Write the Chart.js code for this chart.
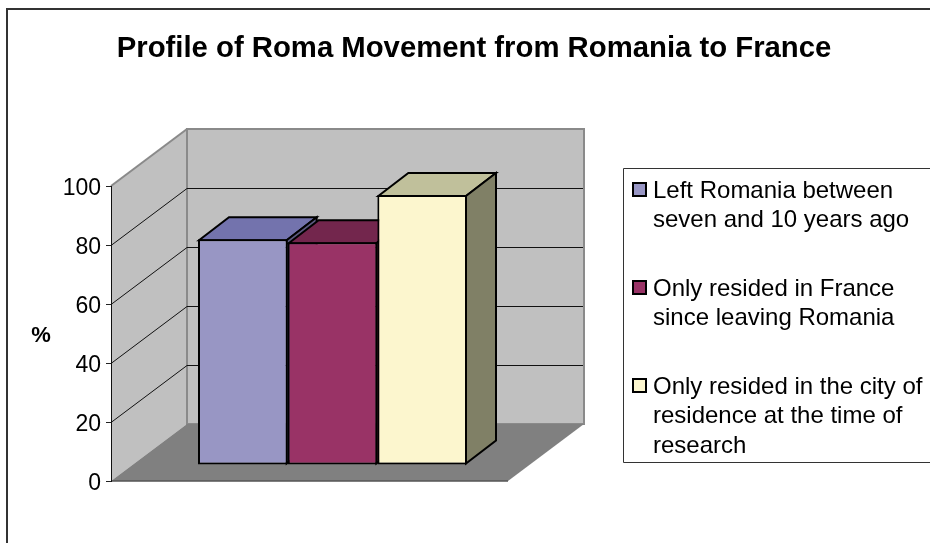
<!DOCTYPE html>
<html>
<head>
<meta charset="utf-8">
<style>html,body{margin:0;padding:0;background:#fff}canvas{display:block}</style>
<script src="https://cdn.jsdelivr.net/npm/chart.js@4"></script>
</head>
<body>
<canvas id="c" width="930" height="543"></canvas>
<script>
const titleText = "Profile of Roma Movement from Romania to France";
const categories = [""];
const seriesLeft = [76.5];
const seriesFrance = [75.5];
const seriesCity = [91.5];
const legendLeft = ["Left Romania between", "seven and 10 years ago"];
const legendFrance = ["Only resided in France", "since leaving Romania"];
const legendCity = ["Only resided in the city of", "residence at the time of", "research"];
const tickValues = [0, 20, 40, 60, 80, 100];
const yLabel = "%";

const FONT = '"Liberation Sans", Arial, sans-serif';
const BACK = {x: 76, y: -57};   // depth of the floor
const FRONT = {x: 23, y: -16};  // gap from front plane to bar front
const DEPTH = {x: 30, y: -23};  // depth of a bar
const colors = [
  {front: "#9896C4", top: "#7373AD", side: "#5C5A80"},
  {front: "#993366", top: "#73264D", side: "#4D1A33"},
  {front: "#FCF6CE", top: "#C0C09B", side: "#808066"}
];

function poly(ctx, pts, fill, stroke, lw) {
  ctx.beginPath();
  pts.forEach((p, i) => i ? ctx.lineTo(p[0], p[1]) : ctx.moveTo(p[0], p[1]));
  ctx.closePath();
  if (fill) { ctx.fillStyle = fill; ctx.fill(); }
  if (stroke) { ctx.strokeStyle = stroke; ctx.lineWidth = lw; ctx.lineJoin = "miter"; ctx.stroke(); }
}

const scene = {
  id: "scene",
  beforeDraw(chart) {
    const {ctx, chartArea: a} = chart;
    const y = chart.scales.y;
    const L = a.left, R = a.right, T = a.top, B = a.bottom;
    ctx.save();
    ctx.fillStyle = "#fff";
    ctx.fillRect(0, 0, chart.width, chart.height);
    // outer frame
    ctx.strokeStyle = "#333"; ctx.lineWidth = 2;
    ctx.beginPath(); ctx.moveTo(7, 543); ctx.lineTo(7, 9); ctx.lineTo(930, 9); ctx.stroke();
    // side wall
    poly(ctx, [[L, B], [L, T], [L + BACK.x, T + BACK.y], [L + BACK.x, B + BACK.y]], "#C0C0C0", null);
    // back wall
    poly(ctx, [[L + BACK.x, T + BACK.y], [R + BACK.x, T + BACK.y], [R + BACK.x, B + BACK.y], [L + BACK.x, B + BACK.y]], "#C0C0C0", "#8A8A8A", 2);
    ctx.strokeStyle = "#8A8A8A"; ctx.lineWidth = 2;
    ctx.beginPath(); ctx.moveTo(L, T); ctx.lineTo(L + BACK.x, T + BACK.y); ctx.stroke();
    // floor
    poly(ctx, [[L, B], [R, B], [R + BACK.x, B + BACK.y], [L + BACK.x, B + BACK.y]], "#808080", null);
    ctx.strokeStyle = "#555"; ctx.lineWidth = 1.5;
    ctx.beginPath(); ctx.moveTo(L, B); ctx.lineTo(R, B); ctx.stroke();
    // gridlines
    ctx.strokeStyle = "#111"; ctx.lineWidth = 1;
    tickValues.forEach(v => {
      if (v === 0 || v === 100) return;
      const py = Math.round(y.getPixelForValue(v)) + 0.5;
      ctx.beginPath();
      ctx.moveTo(L, py); ctx.lineTo(L + BACK.x, py + BACK.y);
      ctx.lineTo(R + BACK.x - 1, py + BACK.y);
      ctx.stroke();
    });
    ctx.restore();
  },
  // the bars are painted left to right below, so each overlaps the one before it
  beforeDatasetDraw() { return false; },
  afterDatasetsDraw(chart) {
    const {ctx} = chart;
    chart.data.datasets.forEach((ds, i) => {
      const el = chart.getDatasetMeta(i).data[0];
      const c = colors[i];
      const x0 = el.x - el.width / 2 + 1, x1 = el.x + el.width / 2 - 1, yt = el.y + 1, yb = el.base - 1;
      ctx.save();
      ctx.translate(FRONT.x, FRONT.y);
      poly(ctx, [[x0, yt], [x0 + DEPTH.x, yt + DEPTH.y], [x1 + DEPTH.x, yt + DEPTH.y], [x1, yt]], c.top, "#000", 2);
      poly(ctx, [[x1, yt], [x1 + DEPTH.x, yt + DEPTH.y], [x1 + DEPTH.x, yb + DEPTH.y], [x1, yb]], c.side, "#000", 2);
      el.draw(ctx);
      ctx.restore();
    });
  },
  afterDraw(chart) {
    const {ctx} = chart;
    ctx.save();
    // y label, upright
    ctx.fillStyle = "#000";
    ctx.font = "bold 22px " + FONT;
    ctx.textAlign = "center"; ctx.textBaseline = "middle";
    ctx.fillText(yLabel, 41, 336);
    // legend frame
    ctx.strokeStyle = "#333"; ctx.lineWidth = 1;
    ctx.beginPath(); ctx.moveTo(930, 168.5); ctx.lineTo(623.5, 168.5); ctx.lineTo(623.5, 462.5); ctx.lineTo(930, 462.5); ctx.stroke();
    // legend entries
    const groups = [legendLeft, legendFrance, legendCity];
    const starts = [190, 288, 386];
    ctx.font = "24px " + FONT;
    ctx.textAlign = "left"; ctx.textBaseline = "middle";
    groups.forEach((lines, i) => {
      ctx.fillStyle = colors[i].front; ctx.strokeStyle = "#000"; ctx.lineWidth = 2;
      ctx.fillRect(633, starts[i] - 7, 13, 13);
      ctx.strokeRect(633, starts[i] - 7, 13, 13);
      ctx.fillStyle = "#000";
      lines.forEach((t, j) => ctx.fillText(t, 653, starts[i] + 1 + j * 29.5));
    });
    ctx.restore();
  }
};

const barBase = {borderColor: "#000", borderWidth: 2, borderSkipped: false, clip: false,
  categoryPercentage: 0.6776, barPercentage: 1};

new Chart(document.getElementById("c"), {
  type: "bar",
  data: {
    labels: categories,
    datasets: [
      {...barBase, label: legendLeft.join(" "), data: seriesLeft, backgroundColor: colors[0].front},
      {...barBase, label: legendFrance.join(" "), data: seriesFrance, backgroundColor: colors[1].front},
      {...barBase, label: legendCity.join(" "), data: seriesCity, backgroundColor: colors[2].front}
    ]
  },
  plugins: [scene],
  options: {
    responsive: false,
    animation: false,
    devicePixelRatio: 1,
    layout: {padding: {left: 18, right: 0, top: 0, bottom: 62}},
    plugins: {
      legend: {display: false},
      tooltip: {enabled: false},
      title: {
        display: true, text: titleText, color: "#000",
        font: {family: FONT, size: 29.3, weight: "bold", lineHeight: 1.2},
        padding: {top: 31, bottom: 119.84}
      }
    },
    scales: {
      x: {display: false, grid: {display: false}},
      y: {
        min: 0, max: 100, position: "left",
        afterFit(s) { s.width = 93; },
        afterBuildTicks(s) { s.ticks = tickValues.map(v => ({value: v})); },
        ticks: {color: "#000", font: {family: FONT, size: 23}, padding: 5, labelOffset: 3},
        grid: {drawOnChartArea: false, drawTicks: true, tickLength: 5, color: "#222"},
        border: {display: true, color: "#111", width: 1}
      },
      spacer: {
        position: "right", min: 0, max: 100,
        afterFit(s) { s.width = 422; },
        ticks: {display: false},
        grid: {display: false},
        border: {display: false}
      }
    }
  }
});
</script>
</body>
</html>
